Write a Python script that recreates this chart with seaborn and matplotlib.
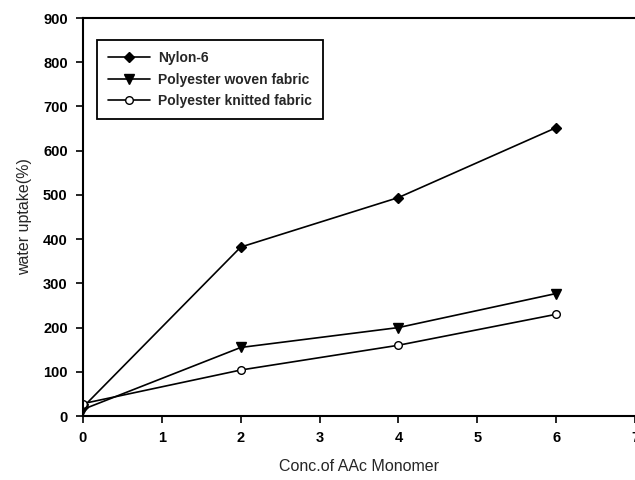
import matplotlib
matplotlib.use("Agg")
import matplotlib.pyplot as plt
import seaborn as sns
import pandas as pd

conc = [0, 2, 4, 6]
nylon6 = [20, 382, 494, 652]
poly_woven = [15, 155, 200, 277]
poly_knitted = [28, 104, 160, 230]
series_names = ["Nylon-6", "Polyester woven fabric", "Polyester knitted fabric"]

sns.set_style("ticks")
plt.rcParams['font.family'] = ['Liberation Sans', 'DejaVu Sans']

fig = plt.figure(figsize=(6.35, 4.8), dpi=100)
ax = fig.add_axes([0.1307, 0.1333, 0.8693, 0.8292])

df = pd.DataFrame({
    "conc": conc * 3,
    "uptake": nylon6 + poly_woven + poly_knitted,
    "series": sum([[n] * len(conc) for n in series_names], []),
})

styles = {
    "Nylon-6": dict(marker="D", mfc="black", ms=5),
    "Polyester woven fabric": dict(marker="v", mfc="black", ms=7),
    "Polyester knitted fabric": dict(marker="o", mfc="white", ms=5.5),
}
for name in series_names:
    sub = df[df["series"] == name]
    st = styles[name]
    sns.lineplot(data=sub, x="conc", y="uptake", ax=ax, color="black", lw=1.2,
                 marker=st["marker"], markersize=st["ms"], markerfacecolor=st["mfc"],
                 markeredgecolor="black", markeredgewidth=1.0, label=name)

ax.set_xlim(0, 7)
ax.set_ylim(0, 900)
ax.set_xticks(range(0, 8))
ax.set_yticks(range(0, 901, 100))
for s in ax.spines.values():
    s.set_linewidth(1.5)
    s.set_color("black")
ax.spines["right"].set_visible(False)
ax.tick_params(direction="out", length=5, width=1.2, labelsize=10.5, colors="black", pad=6)
for lab in ax.get_xticklabels() + ax.get_yticklabels():
    lab.set_fontweight("bold")
ax.set_xlabel("Conc.of AAc Monomer", fontsize=11.5, labelpad=10)
ax.set_ylabel("water uptake(%)", fontsize=11.5, labelpad=8)

leg = ax.legend(loc="upper left", bbox_to_anchor=(0.025, 0.945), borderaxespad=0,
                fancybox=False, edgecolor="black", framealpha=1,
                prop={"weight": "bold", "size": 10}, handlelength=3.0,
                labelspacing=0.55, borderpad=0.8, handletextpad=0.6)
leg.get_frame().set_linewidth(1.3)

fig.savefig("out.png", dpi=100)
